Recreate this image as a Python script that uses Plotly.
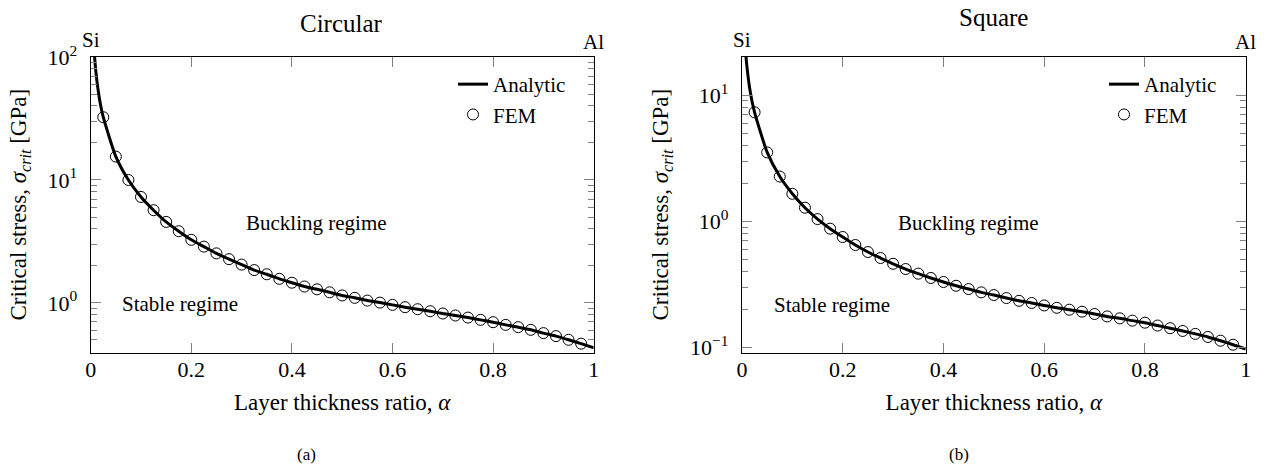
import plotly.graph_objects as go
import numpy as np

FONT = "Liberation Serif"

# ---- data ----
alpha_fem = [0.025, 0.05, 0.075, 0.1, 0.125, 0.15, 0.175, 0.2, 0.225, 0.25,
             0.275, 0.3, 0.325, 0.35, 0.375, 0.4, 0.425, 0.45, 0.475, 0.5,
             0.525, 0.55, 0.575, 0.6, 0.625, 0.65, 0.675, 0.7, 0.725, 0.75,
             0.775, 0.8, 0.825, 0.85, 0.875, 0.9, 0.925, 0.95, 0.975]

circ_fem = [32.4, 15.5, 10.0, 7.28, 5.68, 4.56, 3.83, 3.26, 2.87, 2.53,
            2.27, 2.05, 1.85, 1.71, 1.57, 1.46, 1.36, 1.29, 1.22, 1.15,
            1.10, 1.045, 1.006, 0.964, 0.923, 0.889, 0.856, 0.82, 0.79, 0.76,
            0.728, 0.697, 0.663, 0.635, 0.604, 0.568, 0.537, 0.501, 0.466]

sq_fem = [7.30, 3.51, 2.26, 1.65, 1.28, 1.04, 0.873, 0.75, 0.648, 0.570,
          0.511, 0.460, 0.418, 0.384, 0.355, 0.330, 0.308, 0.290, 0.273, 0.260,
          0.246, 0.234, 0.225, 0.215, 0.206, 0.199, 0.192, 0.184, 0.176, 0.170,
          0.163, 0.157, 0.149, 0.142, 0.135, 0.128, 0.121, 0.113, 0.105]

alpha_line = [0.007, 0.01, 0.015, 0.02] + alpha_fem + [1.0]
circ_line = [110, 78, 53, 40] + circ_fem + [0.432]
sq_line = [22, 16.5, 11.5, 8.9] + sq_fem + [0.097]

x_ticks = [0, 0.2, 0.4, 0.6, 0.8, 1]
x_ticktext = ["0", "0.2", "0.4", "0.6", "0.8", "1"]
circ_yticks = [1, 10, 100]
circ_yticktext = ["10<sup>0</sup>", "10<sup>1</sup>", "10<sup>2</sup>"]
sq_yticks = [0.1, 1, 10]
sq_yticktext = ["10<sup>\u22121</sup>", "10<sup>0</sup>", "10<sup>1</sup>"]

fig = go.Figure()

fig.add_trace(go.Scatter(x=alpha_line, y=circ_line, mode="lines", name="Analytic",
                         line=dict(color="black", width=3, shape="spline", smoothing=0.6),
                         xaxis="x", yaxis="y", legend="legend"))
fig.add_trace(go.Scatter(x=alpha_fem, y=circ_fem, mode="markers", name="FEM",
                         marker=dict(symbol="circle-open", size=11, color="black",
                                     line=dict(width=1, color="black")),
                         xaxis="x", yaxis="y", legend="legend"))
fig.add_trace(go.Scatter(x=alpha_line, y=sq_line, mode="lines", name="Analytic",
                         line=dict(color="black", width=3, shape="spline", smoothing=0.6),
                         xaxis="x2", yaxis="y2", legend="legend2"))
fig.add_trace(go.Scatter(x=alpha_fem, y=sq_fem, mode="markers", name="FEM",
                         marker=dict(symbol="circle-open", size=11, color="black",
                                     line=dict(width=1, color="black")),
                         xaxis="x2", yaxis="y2", legend="legend2"))

tickfont = dict(family=FONT, size=22, color="black")
titlefont = dict(family=FONT, size=23, color="black")

def xaxis(domain, anchor):
    return dict(domain=domain, anchor=anchor, range=[0, 1], tickvals=x_ticks,
                ticktext=x_ticktext, ticks="inside", ticklen=10, tickwidth=1,
                tickcolor="#808080", showline=True, linecolor="black", linewidth=1.3,
                mirror="ticks", showgrid=False, zeroline=False, tickfont=tickfont,
                ticklabelstandoff=-3, automargin=False,
                title=dict(text="Layer thickness ratio, <i>\u03b1</i>", font=titlefont,
                           standoff=12))

def yaxis(domain, anchor, rng, tv, tt):
    return dict(domain=domain, anchor=anchor, type="log", range=rng, tickvals=tv,
                ticktext=tt, ticks="inside", ticklen=10, tickwidth=1,
                tickcolor="#808080", showline=True, linecolor="black", linewidth=1.3,
                mirror="ticks", showgrid=False, zeroline=False, tickfont=tickfont,
                ticklabelstandoff=8, automargin=False,
                minor=dict(ticks="inside", ticklen=6, tickwidth=1, tickcolor="#808080",
                           dtick="D1", showgrid=False),
                title=dict(text="Critical stress, <i>\u03c3</i><sub><i>crit</i></sub> [GPa]",
                           font=titlefont, standoff=14))

ydom = [1 - 352.7 / 469, 1 - 56.7 / 469]
fig.update_layout(
    width=1267, height=469, autosize=False,
    margin=dict(l=0, r=0, t=0, b=0, pad=0, autoexpand=False),
    paper_bgcolor="white", plot_bgcolor="white",
    font=dict(family=FONT, color="black"),
    xaxis=xaxis([90.7 / 1267, 593.7 / 1267], "y"),
    yaxis=yaxis(ydom, "x", [-0.405, 2.003], circ_yticks, circ_yticktext),
    xaxis2=xaxis([742 / 1267, 1245.7 / 1267], "y2"),
    yaxis2=yaxis(ydom, "x2", [-1.042, 1.304], sq_yticks, sq_yticktext),
    legend=dict(x=453 / 1267, y=1 - 64 / 469, xanchor="left", yanchor="top",
                bgcolor="rgba(0,0,0,0)", font=dict(family=FONT, size=21, color="black"),
                tracegroupgap=0),
    legend2=dict(x=1104 / 1267, y=1 - 64 / 469, xanchor="left", yanchor="top",
                 bgcolor="rgba(0,0,0,0)", font=dict(family=FONT, size=21, color="black"),
                 tracegroupgap=0),
    showlegend=True,
)

def ann(text, x, y, xref, yref, size=21):
    return dict(text=text, x=x, y=y, xref=xref, yref=yref, showarrow=False,
                xanchor="center", yanchor="middle",
                font=dict(family=FONT, size=size, color="black"))

annotations = [
    ann("Circular", 341 / 1267, 1 - 24 / 469, "paper", "paper", 25),
    ann("Square", 993 / 1267, 1 - 17.5 / 469, "paper", "paper", 25),
    ann("Buckling regime", 0.448, np.log10(4.5), "x", "y"),
    ann("Stable regime", 0.178, -0.008, "x", "y"),
    ann("Buckling regime", 0.449, -0.014, "x2", "y2"),
    ann("Stable regime", 0.179, -0.664, "x2", "y2"),
    ann("Si", 0, 1 - 40 / 469, "x", "paper"),
    ann("Al", 1, 1 - 42 / 469, "x", "paper"),
    ann("Si", 0, 1 - 40 / 469, "x2", "paper"),
    ann("Al", 1, 1 - 42 / 469, "x2", "paper"),
    ann("(a)", 306 / 1267, 1 - 454 / 469, "paper", "paper", 17),
    ann("(b)", 959 / 1267, 1 - 454 / 469, "paper", "paper", 17),
]
fig.update_layout(annotations=annotations)

fig.write_html("out.html")
